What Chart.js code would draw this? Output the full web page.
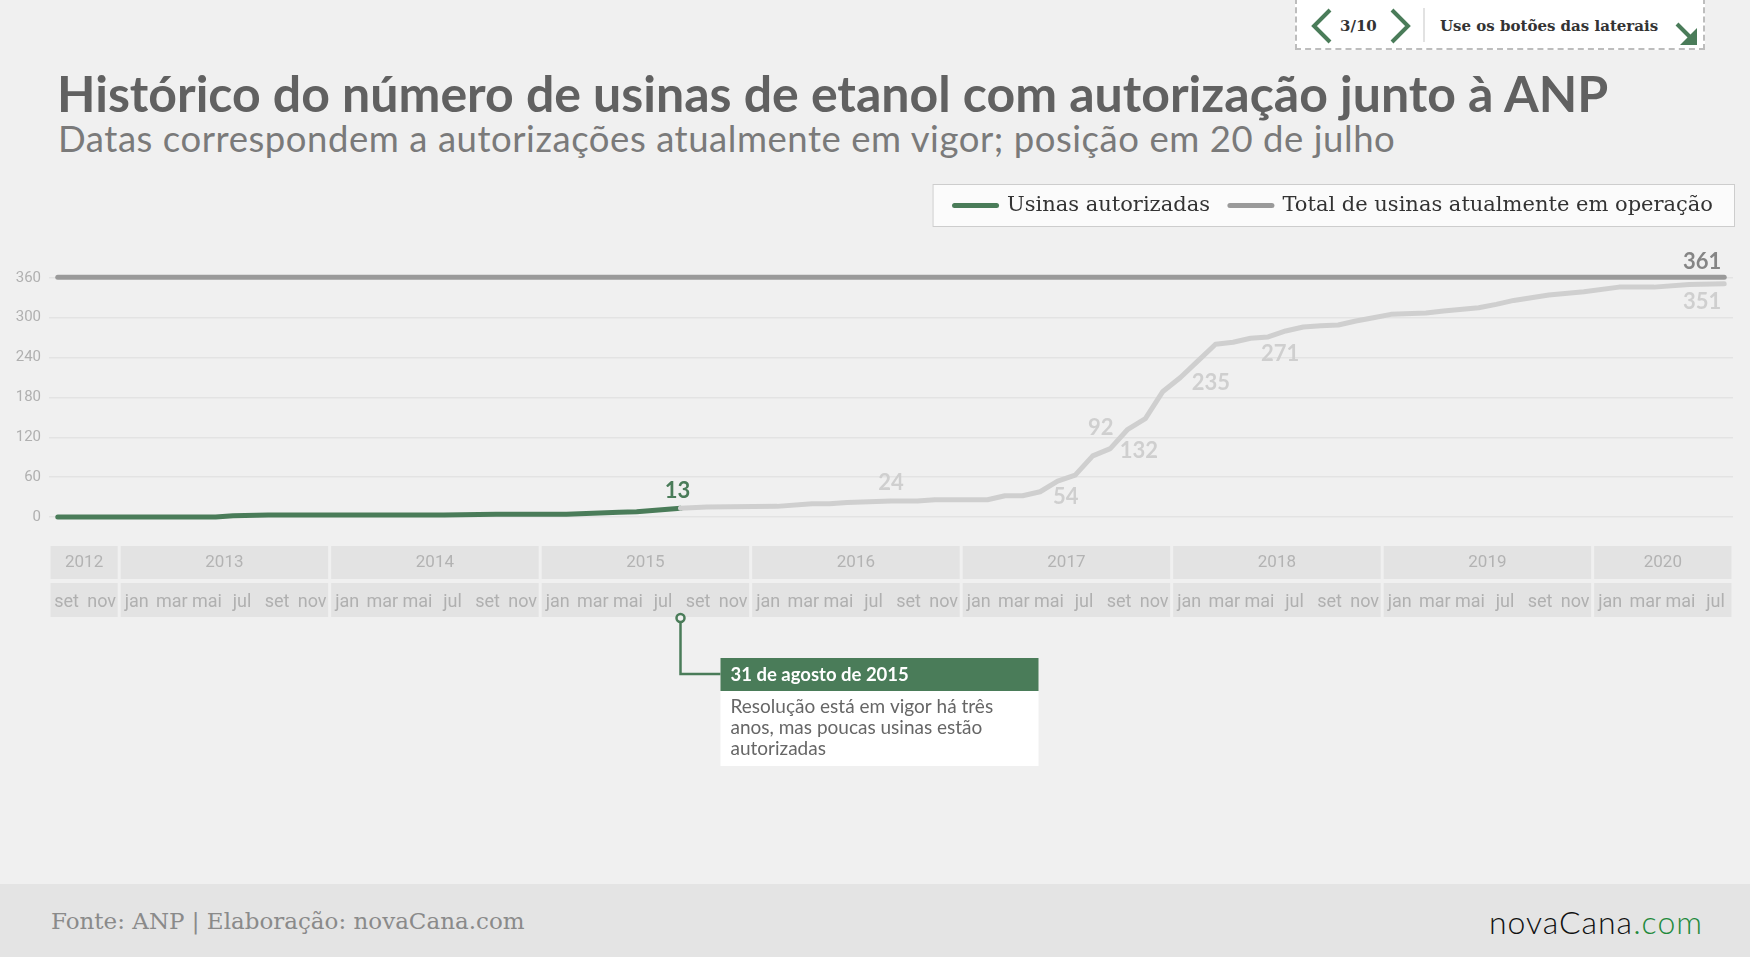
<!DOCTYPE html>
<html lang="pt-BR">
<head>
<meta charset="utf-8">
<title>Usinas de etanol autorizadas pela ANP</title>
<script src="https://cdn.jsdelivr.net/npm/chart.js@4.4.1/dist/chart.umd.min.js"></script>
<style>
  html, body { margin: 0; padding: 0; }
  body { width: 1750px; height: 957px; background: #f0f0f0; position: relative; overflow: hidden; font-family: Lato, "Open Sans", sans-serif; }
  .abs { position: absolute; }
  #nav { left: 1295px; top: -2px; width: 410px; height: 52px; box-sizing: border-box; border: 2px dashed #bdbdbd; background: #fff; }
  #passo { left: 1340px; top: 12px; font: bold 15px "DejaVu Serif", serif; line-height: 28px; color: #333; }
  #divisor { left: 1423px; top: 8px; width: 2px; height: 34px; background: #e2e2e2; }
  #dica { left: 1440px; top: 12px; font: bold 15px "DejaVu Serif", serif; line-height: 28px; color: #333; }
  #titulo { left: 57px; top: 63px; font-weight: 700; font-size: 50px; line-height: 60px; color: #616161; white-space: nowrap; }
  #subtitulo { left: 58px; top: 116px; font-size: 36.5px; font-weight: 400; letter-spacing: 0.55px; line-height: 44px; color: #7a7a7a; white-space: nowrap; }
  #grafico { left: 0; top: 173px; width: 1750px; height: 617px; }
  #rodape { left: 0; top: 884px; width: 1750px; height: 73px; background: #e4e4e4; }
  #fonte { left: 51px; top: 0; font: 23px "DejaVu Serif", serif; line-height: 75px; color: #8a8a8a; }
  #logo { right: 47px; top: 0; font-size: 32px; font-weight: 300; line-height: 75px; color: #111; letter-spacing: 1px; }
  #logo span { color: #1f8a3c; }
</style>
</head>
<body>
  <div id="nav" class="abs"></div>
  <svg class="abs" style="left:1309px;top:8px" width="26" height="36"><polyline points="21,2 5,18 21,34" fill="none" stroke="#4a7c59" stroke-width="4"/></svg>
  <div id="passo" class="abs">3/10</div>
  <svg class="abs" style="left:1387px;top:8px" width="26" height="36"><polyline points="5,2 21,18 5,34" fill="none" stroke="#4a7c59" stroke-width="4"/></svg>
  <div id="divisor" class="abs"></div>
  <div id="dica" class="abs">Use os botões das laterais</div>
  <svg class="abs" style="left:1674px;top:20px" width="26" height="28"><line x1="3" y1="4" x2="18" y2="19" stroke="#4a7c59" stroke-width="4"/><polygon points="23,8 23,25 6,25" fill="#4a7c59"/></svg>

  <div id="titulo" class="abs">Histórico do número de usinas de etanol com autorização junto à ANP</div>
  <div id="subtitulo" class="abs">Datas correspondem a autorizações atualmente em vigor; posição em 20 de julho</div>

  <canvas id="grafico" class="abs" width="1750" height="617"></canvas>

  <div id="rodape" class="abs">
    <div id="fonte" class="abs">Fonte: ANP | Elaboração: novaCana.com</div>
    <div id="logo" class="abs">novaCana<span>.com</span></div>
  </div>

<script>
(function () {
    "use strict";

    // meses contados a partir do início de setembro de 2012
    const mesesAutorizadas = [0.5, 9.5, 10.5, 12.5, 22.5, 25.5, 29.5, 32.5, 33.5, 36,
        37.5, 41.5, 43.5, 44.5, 45.5, 48, 49.5, 50.5, 53.5, 54.5,
        55.5, 56.5, 57.5, 58.5, 59.5, 60.5, 61.5, 62.5, 63.5, 64.5,
        65.5, 66.5, 67.5, 68.5, 69.5, 70.5, 71.5, 72.5, 73.5, 74.5,
        75.5, 76.5, 78.5, 79.5, 81.5, 82.5, 83.5, 84.5, 85.5, 87.5,
        89.5, 91.5, 93.5, 95.5];
    const usinasAutorizadas = [0, 0, 2, 3, 3, 4, 4, 7, 8, 13,
        15, 16, 20, 20, 22, 24, 24, 26, 26, 32,
        32, 38, 54, 63, 92, 103, 132, 148, 189, 210,
        235, 260, 263, 269, 271, 280, 286, 288, 289, 295,
        300, 305, 307, 310, 315, 320, 326, 330, 334, 339,
        346, 346, 350, 351];
    const mesesTotal = [0.5, 95.5];
    const usinasTotal = [361, 361];

    const mesAtual = 36; // 31 de agosto de 2015
    const mesesRotulados = [36, 48, 57.5, 59.5, 61.5, 65.5, 69.5, 95.5];

    const anos = ["2012", "2013", "2014", "2015", "2016", "2017", "2018", "2019", "2020"];
    const limitesAnos = [0, 4, 16, 28, 40, 52, 64, 76, 88, 96];
    const nomesMeses = ["jan", "fev", "mar", "abr", "mai", "jun", "jul", "ago", "set", "out", "nov", "dez"];
    const ticksMeses = [1, 3, 5, 7, 9, 11, 13, 15, 17, 19, 21, 23, 25, 27, 29, 31, 33, 35, 37, 39, 41, 43, 45, 47,
        49, 51, 53, 55, 57, 59, 61, 63, 65, 67, 69, 71, 73, 75, 77, 79, 81, 83, 85, 87, 89, 91, 93, 95];
    const ticksY = [0, 60, 120, 180, 240, 300, 360];

    const VERDE = "#4a7c59";
    const CINZA_CLARO = "#cfcfcf";
    const CINZA_TOTAL = "#9a9a9a";
    const FONTE_EIXO = "Roboto, sans-serif";

    // deslocamentos dos rótulos de valor (px), na ordem de mesesRotulados
    const posRotulos = [
        { dx: -3, dy: -17, cor: VERDE }, { dx: 0, dy: -18, cor: CINZA_CLARO }, { dx: 8, dy: 16, cor: CINZA_CLARO },
        { dx: 8, dy: -28, cor: CINZA_CLARO }, { dx: 11, dy: 22, cor: CINZA_CLARO }, { dx: 13, dy: 22, cor: CINZA_CLARO },
        { dx: 12, dy: 17, cor: CINZA_CLARO }, { dx: -22, dy: 18, cor: CINZA_CLARO },
    ];

    const cenario = {
        id: "cenario",
        beforeDraw(chart) {
            const ctx = chart.ctx, x = chart.scales.x, b = chart.chartArea.bottom;
            const lg = chart.legend, item = lg.legendHitBoxes[0];
            const cy = item.top + item.height / 2;
            const left = item.left - 22, right = lg.right + 2;
            ctx.save();
            ctx.fillStyle = "#fbfbfb";
            ctx.fillRect(left, cy - 21.5, right - left, 43);
            ctx.strokeStyle = "#cdcdcd";
            ctx.lineWidth = 1;
            ctx.strokeRect(left + 0.5, cy - 21, right - left - 1, 42);

            ctx.font = "17px " + FONTE_EIXO;
            ctx.textAlign = "center";
            ctx.textBaseline = "middle";
            anos.forEach((ano, i) => {
                const x0 = x.getPixelForValue(limitesAnos[i]) + 1.5;
                const x1 = x.getPixelForValue(limitesAnos[i + 1]) - 1.5;
                ctx.fillStyle = "#e3e3e3";
                ctx.fillRect(x0, b + 29, x1 - x0, 33);
                ctx.fillRect(x0, b + 66, x1 - x0, 34);
                ctx.fillStyle = "#b3b3b3";
                ctx.fillText(ano, (x0 + x1) / 2, b + 46);
            });
            ctx.restore();
        },
        afterDatasetsDraw(chart) {
            const ctx = chart.ctx, x = chart.scales.x, y = chart.scales.y;
            ctx.save();
            ctx.textAlign = "center";
            ctx.textBaseline = "middle";
            ctx.font = "bold 22px Lato";
            mesesRotulados.forEach((m, k) => {
                const v = usinasAutorizadas[mesesAutorizadas.indexOf(m)];
                ctx.fillStyle = posRotulos[k].cor;
                ctx.fillText(String(v), x.getPixelForValue(m) + posRotulos[k].dx, y.getPixelForValue(v) + posRotulos[k].dy);
            });
            const mt = mesesTotal[mesesTotal.length - 1], vt = usinasTotal[usinasTotal.length - 1];
            ctx.fillStyle = "#858585";
            ctx.fillText(String(vt), x.getPixelForValue(mt) - 22, y.getPixelForValue(vt) - 15);
            ctx.restore();
        },
        afterDraw(chart) {
            const ctx = chart.ctx, x = chart.scales.x, b = chart.chartArea.bottom;
            const ax = x.getPixelForValue(mesAtual);
            const bx = ax + 40;
            ctx.save();
            ctx.strokeStyle = VERDE;
            ctx.lineWidth = 2.5;
            ctx.beginPath();
            ctx.moveTo(ax, b + 105);
            ctx.lineTo(ax, b + 157);
            ctx.lineTo(bx, b + 157);
            ctx.stroke();
            ctx.beginPath();
            ctx.arc(ax, b + 101, 4, 0, Math.PI * 2);
            ctx.fillStyle = "#f0f0f0";
            ctx.fill();
            ctx.stroke();

            ctx.fillStyle = VERDE;
            ctx.fillRect(bx, b + 141, 318, 33);
            ctx.fillStyle = "#ffffff";
            ctx.fillRect(bx, b + 174, 318, 75);
            ctx.textAlign = "left";
            ctx.textBaseline = "middle";
            ctx.font = "bold 18.5px Lato";
            ctx.fillText("31 de agosto de 2015", bx + 10, b + 158);
            ctx.font = "19px Lato";
            ctx.fillStyle = "#666666";
            ["Resolução está em vigor há três", "anos, mas poucas usinas estão", "autorizadas"].forEach((t, i) => {
                ctx.fillText(t, bx + 10, b + 190 + i * 21);
            });
            ctx.restore();
        },
    };

    new Chart(document.getElementById("grafico"), {
        type: "line",
        data: {
            datasets: [
                {
                    label: "Usinas autorizadas",
                    data: mesesAutorizadas.map((m, i) => ({ x: m, y: usinasAutorizadas[i] })),
                    borderColor: VERDE,
                    backgroundColor: VERDE,
                    borderWidth: 5,
                    borderCapStyle: "round",
                    borderJoinStyle: "round",
                    pointRadius: 0,
                    tension: 0,
                    clip: false,
                    segment: { borderColor: (c) => (c.p0.parsed.x >= mesAtual ? CINZA_CLARO : VERDE) },
                },
                {
                    label: "Total de usinas atualmente em operação",
                    data: mesesTotal.map((m, i) => ({ x: m, y: usinasTotal[i] })),
                    borderColor: CINZA_TOTAL,
                    backgroundColor: CINZA_TOTAL,
                    borderWidth: 5,
                    borderCapStyle: "round",
                    pointRadius: 0,
                    clip: false,
                },
            ],
        },
        options: {
            responsive: false,
            animation: false,
            devicePixelRatio: 1,
            layout: { padding: { top: 2, right: 17, left: 0, bottom: 0 } },
            plugins: {
                tooltip: { enabled: false },
                legend: {
                    position: "top",
                    align: "end",
                    labels: {
                        font: { family: "DejaVu Serif", size: 21 },
                        color: "#333333",
                        padding: 20,
                        usePointStyle: true,
                        pointStyleWidth: 42,
                        generateLabels: (chart) => chart.data.datasets.map((ds, i) => ({
                            text: ds.label, datasetIndex: i, hidden: false,
                            strokeStyle: ds.borderColor, fillStyle: ds.borderColor,
                            lineWidth: 5, lineCap: "round", pointStyle: "line", fontColor: "#333333",
                        })),
                    },
                },
            },
            scales: {
                x: {
                    type: "linear",
                    min: 0,
                    max: 96,
                    grid: { display: false },
                    border: { display: false },
                    afterBuildTicks: (s) => { s.ticks = ticksMeses.map((v) => ({ value: v })); },
                    afterFit: (s) => { s.height = 273; s.paddingLeft = 0; s.paddingRight = 0; },
                    ticks: {
                        autoSkip: false,
                        maxRotation: 0,
                        padding: 67,
                        color: "#b0b0b0",
                        font: { family: FONTE_EIXO, size: 18 },
                        callback: (v) => nomesMeses[(8 + v - 1) % 12],
                    },
                },
                y: {
                    min: 0,
                    max: 438,
                    border: { display: false },
                    grid: { color: "#e3e3e3", lineWidth: 1.5, drawTicks: false },
                    afterBuildTicks: (s) => { s.ticks = ticksY.map((v) => ({ value: v })); },
                    afterFit: (s) => { s.width = 49; s.paddingTop = 0; s.paddingBottom = 0; },
                    ticks: { padding: 8, color: "#b0b0b0", font: { family: FONTE_EIXO, size: 15 } },
                },
            },
        },
        plugins: [cenario],
    });
})();
</script>
</body>
</html>
